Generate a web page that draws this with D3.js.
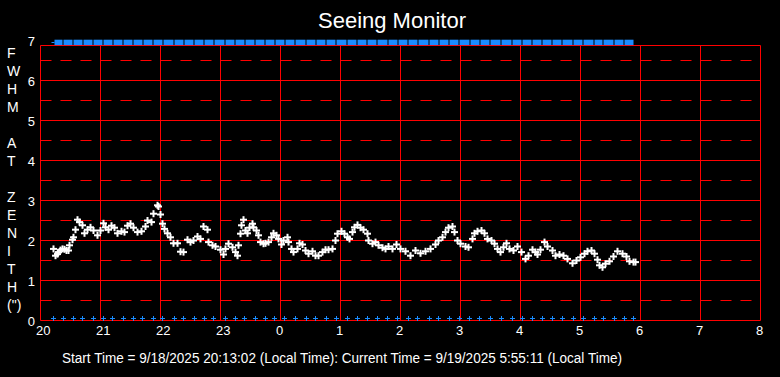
<!DOCTYPE html>
<html>
<head>
<meta charset="utf-8">
<script src="https://cdn.jsdelivr.net/npm/d3@7"></script>
<style>
  body { margin: 0; background: #000; }
  svg { display: block; }
</style>
</head>
<body>
<script>
// Seeing data: minutes after 20:00 and FWHM at zenith (arcsec)
const minutes = [13, 15, 17, 18, 20, 22, 24, 26, 28, 29, 32, 33, 35, 37, 39, 42, 44, 47, 50, 53,
  57, 60, 63, 65, 68, 71, 74, 77, 81, 84, 87, 90, 93, 97, 101, 105, 107, 111, 113, 117,
  118, 120, 122, 124, 127, 130, 133, 137, 140, 143, 147, 150, 153, 157, 160, 163, 167, 168, 172, 175,
  180, 183, 185, 188, 192, 195, 197, 198, 200, 201, 203, 205, 207, 209, 212, 213, 216, 218, 220, 223,
  225, 228, 231, 233, 236, 238, 241, 243, 247, 248, 251, 253, 257, 259, 262, 265, 268, 272, 275, 278,
  282, 285, 288, 292, 295, 297, 301, 304, 307, 309, 312, 314, 317, 320, 323, 327, 328, 332, 335, 338,
  342, 345, 348, 352, 356, 360, 365, 370, 375, 380, 385, 390, 395, 398, 402, 405, 408, 412, 414, 417,
  420, 425, 428, 432, 434, 437, 441, 444, 447, 451, 454, 457, 460, 463, 466, 469, 473, 477, 481, 485,
  488, 492, 495, 497, 500, 504, 507, 512, 515, 519, 523, 527, 532, 536, 540, 544, 547, 551, 554, 557,
  559, 562, 565, 569, 573, 577, 582, 586, 589, 593, 595];
const fwhm = [1.79, 1.62, 1.66, 1.71, 1.76, 1.79, 1.78, 1.75, 1.75, 1.88, 2.02, 2.08, 2.27, 2.52, 2.46, 2.38, 2.18, 2.27, 2.33, 2.25,
  2.13, 2.25, 2.43, 2.33, 2.27, 2.37, 2.32, 2.18, 2.23, 2.21, 2.37, 2.42, 2.32, 2.21, 2.23, 2.35, 2.50, 2.46, 2.67, 2.88,
  2.85, 2.65, 2.42, 2.29, 2.18, 2.08, 1.93, 1.93, 1.72, 1.71, 2.02, 1.96, 2.00, 2.10, 2.04, 2.35, 2.27, 1.96, 1.88, 1.85,
  1.77, 1.65, 1.79, 1.92, 1.83, 1.71, 1.62, 1.88, 2.17, 2.38, 2.52, 2.25, 2.18, 2.32, 2.42, 2.33, 2.25, 2.13, 1.96, 1.92,
  1.93, 1.96, 2.08, 2.18, 2.13, 2.04, 1.90, 2.00, 2.08, 1.96, 1.79, 1.71, 1.79, 1.93, 1.90, 1.75, 1.67, 1.73, 1.62, 1.62,
  1.71, 1.77, 1.77, 1.79, 2.00, 2.17, 2.23, 2.17, 2.08, 2.04, 2.21, 2.33, 2.39, 2.32, 2.27, 2.17, 2.00, 1.92, 1.96, 1.88,
  1.82, 1.79, 1.85, 1.79, 1.90, 1.79, 1.73, 1.62, 1.75, 1.68, 1.73, 1.79, 1.90, 2.00, 2.08, 2.21, 2.32, 2.35, 2.21, 2.00,
  1.92, 1.85, 1.83, 2.04, 2.18, 2.23, 2.25, 2.18, 2.04, 2.00, 1.92, 1.79, 1.71, 1.83, 1.93, 1.79, 1.75, 1.85, 1.71, 1.54,
  1.62, 1.77, 1.71, 1.65, 1.77, 1.96, 1.85, 1.75, 1.62, 1.65, 1.62, 1.54, 1.43, 1.50, 1.58, 1.67, 1.73, 1.75, 1.67, 1.52,
  1.38, 1.33, 1.42, 1.48, 1.60, 1.73, 1.67, 1.60, 1.48, 1.46, 1.46];

// Blue status flags (minutes after 20:00)
const flagMinutes = [13, 22, 32, 42, 52, 62, 72, 82, 92, 102, 112, 122, 133, 143, 153, 163, 173, 184, 194, 204,
  214, 224, 234, 244, 254, 265, 275, 285, 295, 306, 316, 326, 336, 347, 357, 367, 377, 388, 398, 408,
  418, 429, 439, 449, 460, 471, 481, 491, 501, 511, 521, 532, 542, 553, 562, 573, 583, 593];

const xTicks = [20, 21, 22, 23, 24, 25, 26, 27, 28, 29, 30, 31, 32];
const yTicks = [0, 1, 2, 3, 4, 5, 6, 7];
const yHalf = [0.5, 1.5, 2.5, 3.5, 4.5, 5.5, 6.5];
const yTitle = ["F", "W", "H", "M", "", "A", "T", "", "Z", "E", "N", "I", "T", "H", "(\")"];
const startText = "Start Time = 9/18/2025 20:13:02 (Local Time): Current Time = 9/19/2025 5:55:11 (Local Time)";

const width = 780, height = 377;
const red = "#ff0000", blue = "#1a8cff";
const font = "'Liberation Sans', Arial, sans-serif";

const svg = d3.select("body").append("svg")
    .attr("width", width)
    .attr("height", height)
    .style("background", "#000");

const x = d3.scaleLinear().domain([20, 32]).range([40.5, 760.5]);
const y = d3.scaleLinear().domain([0, 7]).range([320.5, 40.5]);
const hour = m => 20 + m / 60;
const frameTop = y(6.875);

// Title
svg.append("text")
    .attr("x", 392)
    .attr("y", 28)
    .attr("text-anchor", "middle")
    .attr("fill", "#fff")
    .style("font-family", font)
    .style("font-size", "22px")
    .text("Seeing Monitor");

// Dashed half-unit lines
svg.selectAll(".half")
    .data(yHalf)
    .join("line")
    .attr("x1", x(20)).attr("x2", x(32))
    .attr("y1", d => y(d)).attr("y2", d => y(d))
    .attr("stroke", red)
    .attr("stroke-dasharray", "11,9");

// Solid gridlines
svg.selectAll(".hgrid")
    .data(yTicks.filter(d => d > 0 && d < 7))
    .join("line")
    .attr("x1", x(20)).attr("x2", x(32))
    .attr("y1", d => y(d)).attr("y2", d => y(d))
    .attr("stroke", red);

svg.selectAll(".vgrid")
    .data(xTicks)
    .join("line")
    .attr("x1", d => x(d)).attr("x2", d => x(d))
    .attr("y1", frameTop).attr("y2", y(0))
    .attr("stroke", red);

svg.append("line")
    .attr("x1", x(20)).attr("x2", x(32))
    .attr("y1", frameTop).attr("y2", frameTop)
    .attr("stroke", red);
svg.append("line")
    .attr("x1", x(20)).attr("x2", x(32))
    .attr("y1", y(0)).attr("y2", y(0))
    .attr("stroke", red);

// Tick labels
svg.selectAll(".ylab")
    .data(yTicks)
    .join("text")
    .attr("x", 35)
    .attr("y", d => y(d) + 5)
    .attr("text-anchor", "end")
    .attr("fill", "#fff")
    .style("font-family", font)
    .style("font-size", "13px")
    .text(d => d);

svg.selectAll(".xlab")
    .data(xTicks)
    .join("text")
    .attr("x", d => x(d) - 4.5)
    .attr("y", 335)
    .attr("fill", "#fff")
    .style("font-family", font)
    .style("font-size", "13px")
    .text(d => d % 24);

// Vertical y-axis title
svg.selectAll(".ytitle")
    .data(yTitle)
    .join("text")
    .attr("x", 7)
    .attr("y", (d, i) => 58.3 + i * 18)
    .attr("fill", "#fff")
    .style("font-family", font)
    .style("font-size", "14px")
    .text(d => d);

// Top blue band between flags
const bands = d3.pairs(flagMinutes);
svg.selectAll(".band")
    .data(bands)
    .join("rect")
    .attr("x", d => x(hour(d[0])) + 1)
    .attr("width", d => x(hour(d[1])) - x(hour(d[0])) - 1)
    .attr("y", y(7.02))
    .attr("height", y(6.885) - y(7.02))
    .attr("fill", blue);
svg.append("line")
    .attr("x1", x(hour(flagMinutes[0])) - 2).attr("x2", x(hour(flagMinutes[0])) + 1)
    .attr("y1", y(6.95)).attr("y2", y(6.95))
    .attr("stroke", blue);

// Bottom blue plus markers
const plus = (sel, cx, cy, r) => {
    sel.append("line").attr("x1", cx - r).attr("x2", cx + r).attr("y1", cy).attr("y2", cy);
    sel.append("line").attr("x1", cx).attr("x2", cx).attr("y1", cy - r).attr("y2", cy + r);
};
const flags = svg.append("g").attr("stroke", blue);
flagMinutes.forEach(m => plus(flags, Math.round(x(hour(m))) + 0.5, y(0.05), 2.5));

// White FWHM plus markers
const pts = svg.append("g").attr("stroke", "#fff").attr("stroke-width", 2);
minutes.forEach((m, i) => plus(pts, x(hour(m)), y(fwhm[i]), 3.5));

// Footer
svg.append("text")
    .attr("x", 62)
    .attr("y", 363)
    .attr("fill", "#fff")
    .attr("textLength", 560)
    .attr("lengthAdjust", "spacingAndGlyphs")
    .style("font-family", font)
    .style("font-size", "14px")
    .text(startText);
</script>
</body>
</html>
